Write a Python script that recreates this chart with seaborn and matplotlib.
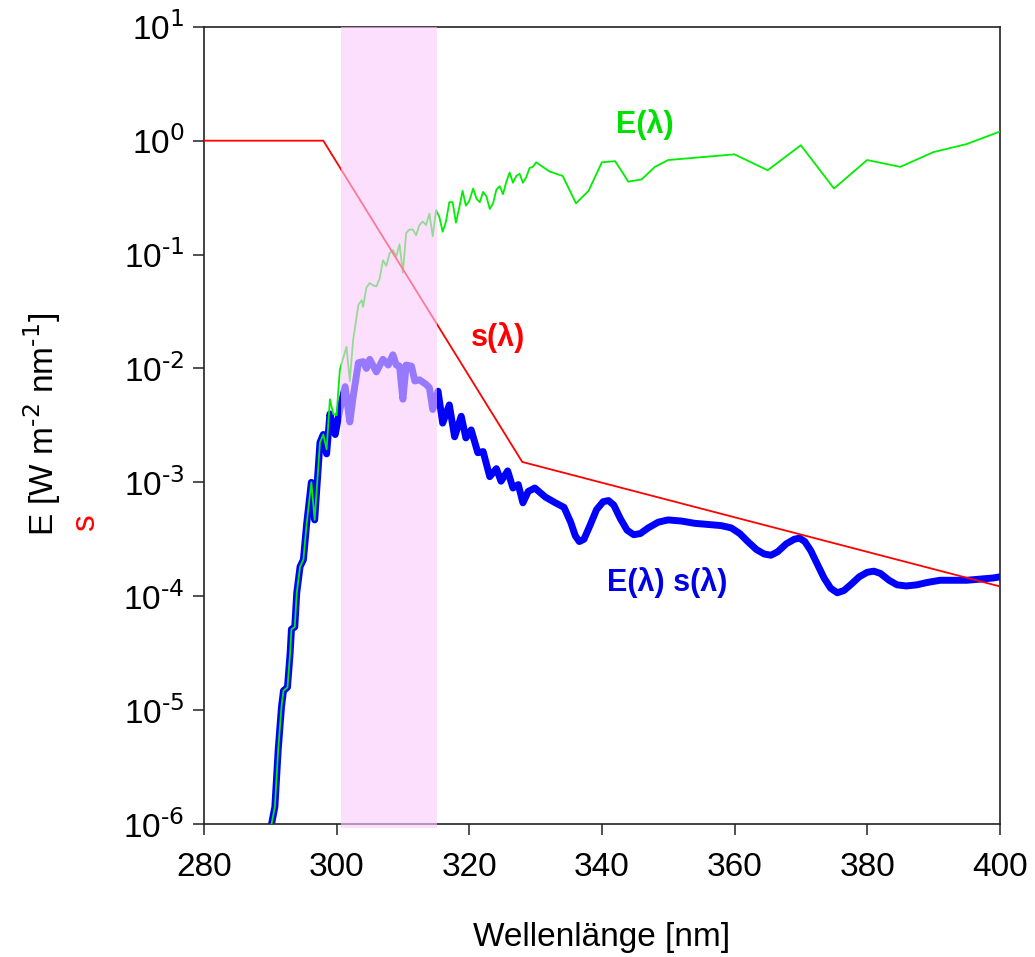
import numpy as np
import pandas as pd
import matplotlib
matplotlib.use("Agg")
import matplotlib.pyplot as plt
import matplotlib.ticker as mticker
import seaborn as sns

# Spectral irradiance E(lambda), log10 of W m^-2 nm^-1
wavelength_E = [
    290.2, 290.7, 291.2, 291.7, 292.0, 292.6, 293.0, 293.2, 293.7, 294.0,
    294.5, 295.0, 295.5, 296.2, 296.7, 297.5, 298.0, 298.5, 299.0, 299.5,
    300.0, 300.5, 301.5, 302.0, 302.5, 303.3, 303.8, 304.0, 304.5, 305.0,
    305.5, 306.0, 306.5, 307.0, 307.5, 308.0, 308.5, 309.0, 309.5, 310.0,
    310.5, 311.0, 311.5, 312.0, 312.5, 313.0, 313.5, 314.0, 314.5, 315.0,
    315.5, 316.0, 316.5, 317.0, 317.5, 318.0, 318.5, 319.0, 319.5, 320.0,
    320.6, 321.1, 321.6, 322.1, 322.6, 323.1, 323.6, 324.1, 324.6, 325.1,
    325.6, 326.1, 326.6, 327.1, 327.6, 328.1, 328.6, 329.1, 329.6, 330.1,
    332.1, 334.1, 336.1, 338.0, 340.0, 342.0, 344.0, 346.0, 348.0, 350.0,
    360.0, 365.0, 370.0, 375.0, 380.0, 385.0, 390.0, 395.0, 400.0,
]
log10_E = [
    -6.00, -5.85, -5.35, -4.97, -4.83, -4.80, -4.50, -4.29, -4.27, -3.97,
    -3.74, -3.68, -3.36, -3.00, -3.33, -2.65, -2.58, -2.71, -2.27, -2.40,
    -2.41, -2.01, -1.81, -2.11, -1.75, -1.44, -1.40, -1.46, -1.29, -1.25,
    -1.27, -1.28, -1.21, -1.05, -1.10, -0.99, -0.96, -1.02, -0.91, -1.16,
    -0.81, -0.78, -0.78, -0.83, -0.74, -0.71, -0.74, -0.64, -0.84, -0.61,
    -0.67, -0.80, -0.71, -0.54, -0.54, -0.72, -0.59, -0.44, -0.57, -0.53,
    -0.42, -0.51, -0.54, -0.45, -0.49, -0.60, -0.55, -0.43, -0.40, -0.47,
    -0.36, -0.28, -0.37, -0.31, -0.29, -0.37, -0.32, -0.24, -0.23, -0.19,
    -0.27, -0.31, -0.55, -0.44, -0.19, -0.18, -0.36, -0.34, -0.23, -0.17,
    -0.12, -0.26, -0.04, -0.42, -0.17, -0.23, -0.10, -0.03, 0.08,
]

# Weighted irradiance E(lambda) s(lambda), log10
wavelength_Es = [
    290.2, 290.7, 291.2, 291.7, 292.0, 292.6, 293.0, 293.2, 293.7, 294.0,
    294.5, 295.0, 295.5, 296.2, 296.7, 297.5, 298.0, 298.5, 299.0, 299.5,
    299.8, 300.5, 301.3, 302.0, 302.5, 303.3, 304.0, 304.5, 305.0, 306.0,
    307.0, 307.8, 308.5, 309.0, 309.5, 310.0, 310.5, 311.3, 311.8, 312.5,
    313.5, 314.0, 314.5, 315.3, 316.0, 317.0, 317.8, 318.8, 319.5, 320.3,
    321.3, 322.1, 323.1, 324.1, 324.8, 325.8, 326.6, 327.4, 328.1, 328.9,
    329.9, 331.5, 333.0, 334.3, 335.3, 336.0, 336.6, 337.3, 338.2, 339.2,
    340.2, 341.0, 341.8, 342.8, 343.8, 344.8, 345.8, 347.0, 348.5, 350.0,
    352.0, 354.0, 356.0, 358.0, 359.5, 360.8, 362.0, 363.3, 364.5, 365.5,
    366.5, 367.8, 369.0, 369.8, 370.6, 371.5, 372.5, 373.5, 374.5, 375.5,
    376.5, 377.5, 378.8, 380.0, 381.0, 382.0, 383.3, 384.5, 385.9, 387.5,
    389.0, 391.0, 393.0, 395.0, 397.0, 399.0, 400.0,
]
log10_Es = [
    -6.00, -5.85, -5.35, -4.97, -4.83, -4.80, -4.50, -4.29, -4.27, -3.97,
    -3.74, -3.68, -3.36, -3.00, -3.33, -2.65, -2.58, -2.75, -2.40, -2.52,
    -2.58, -2.36, -2.16, -2.47, -2.25, -1.95, -1.94, -2.00, -1.92, -2.03,
    -1.92, -1.97, -1.88, -1.97, -1.98, -2.27, -1.97, -1.98, -2.11, -2.10,
    -2.14, -2.17, -2.36, -2.20, -2.48, -2.32, -2.60, -2.42, -2.61, -2.54,
    -2.74, -2.73, -2.95, -2.88, -2.99, -2.90, -3.05, -3.02, -3.18, -3.08,
    -3.05, -3.13, -3.18, -3.22, -3.35, -3.47, -3.52, -3.50, -3.38, -3.24,
    -3.17, -3.16, -3.20, -3.32, -3.42, -3.46, -3.45, -3.40, -3.35, -3.33,
    -3.34, -3.36, -3.37, -3.38, -3.40, -3.45, -3.52, -3.59, -3.63, -3.64,
    -3.61, -3.54, -3.50, -3.49, -3.52, -3.60, -3.72, -3.84, -3.93, -3.97,
    -3.95, -3.90, -3.83, -3.79, -3.78, -3.80, -3.86, -3.90, -3.91, -3.90,
    -3.88, -3.86, -3.86, -3.86, -3.85, -3.84, -3.83,
]

# Action spectrum s(lambda): breakpoints of the piecewise log-linear curve
wavelength_s = [280, 298, 328, 400]
s_values = [1.0, 1.0, 1.51e-3, 1.22e-4]

# Highlighted wavelength band
band_start, band_end = 300.7, 315.2

x_ticks = [280, 300, 320, 340, 360, 380, 400]

sns.set_style("ticks")
plt.rcParams["font.family"] = ["Liberation Sans", "DejaVu Sans"]
plt.rcParams["mathtext.default"] = "regular"
plt.rcParams["axes.unicode_minus"] = False
for key in ("text.color", "axes.labelcolor", "xtick.labelcolor", "ytick.labelcolor"):
    plt.rcParams[key] = "black"

fig = plt.figure(figsize=(10.35, 9.57), dpi=100)
ax = fig.add_axes([0.197, 0.139, 0.769, 0.833])

df_E = pd.DataFrame({"wl": wavelength_E, "val": 10.0 ** np.array(log10_E)})
df_Es = pd.DataFrame({"wl": wavelength_Es, "val": 10.0 ** np.array(log10_Es)})
df_s = pd.DataFrame({"wl": wavelength_s, "val": s_values})

sns.lineplot(data=df_Es, x="wl", y="val", ax=ax, color="#0000ff", lw=5,
             sort=False, estimator=None, zorder=2,
             solid_joinstyle="round", solid_capstyle="round")
sns.lineplot(data=df_E, x="wl", y="val", ax=ax, color="#00ee00", lw=1.3,
             sort=False, estimator=None, zorder=3)
sns.lineplot(data=df_s, x="wl", y="val", ax=ax, color="#ff0000", lw=1.3,
             sort=False, estimator=None, zorder=4)

ax.set_yscale("log")
ax.set_xlim(280, 400)
ax.set_ylim(1e-6, 10)
ax.set_xticks(x_ticks)
ax.yaxis.set_major_locator(mticker.LogLocator(base=10, numticks=12))
ax.yaxis.set_minor_locator(mticker.NullLocator())


def decade_label(value, pos):
    exponent = int(round(np.log10(value)))
    return r"$10^{\text{%d}}$" % exponent


ax.yaxis.set_major_formatter(mticker.FuncFormatter(decade_label))

ax.axvspan(band_start, band_end, ymin=-0.005, ymax=1, color="#fbcbfa",
           alpha=0.6, lw=0, zorder=5, clip_on=False)

for sp in ax.spines.values():
    sp.set_visible(True)
    sp.set_linewidth(1.2)
    sp.set_color("#222222")

ax.tick_params(axis="both", which="major", direction="out", length=8,
               width=1.2, color="#333333", labelsize=24,
               labelcolor="black")
ax.tick_params(axis="x", pad=12)
ax.tick_params(axis="y", pad=6)

ax.set_xlabel("Wellenlänge [nm]", fontsize=24, labelpad=28, color="black")
ax.set_ylabel("")

ax.text(346.5, 10 ** 0.14, "E(λ)", color="#00e000", fontsize=22,
        fontweight="bold", ha="center", va="center", zorder=6)
ax.text(324.3, 10 ** -1.73, "s(λ)", color="#ff0000", fontsize=22,
        fontweight="bold", ha="center", va="center", zorder=6)
ax.text(349.8, 10 ** -3.88, "E(λ) s(λ)", color="#0000e6", fontsize=22,
        fontweight="bold", ha="center", va="center", zorder=6)

fig.text(0.041, 0.556, r"E [W m$^{\text{-2}}$ nm$^{\text{-1}}$]", rotation=90,
         fontsize=24, ha="center", va="center", color="black")
fig.text(0.083, 0.454, "s", rotation=90, fontsize=24, ha="center",
         va="center", color="#ff0000")

fig.savefig("out.png", dpi=100)
